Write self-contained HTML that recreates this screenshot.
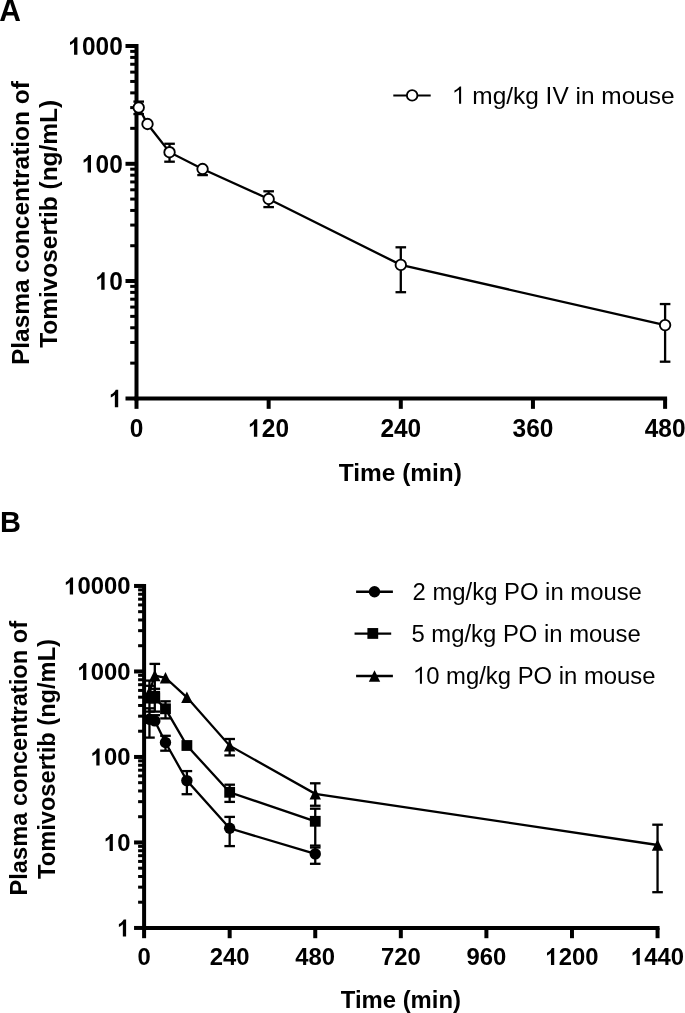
<!DOCTYPE html><html><head><meta charset="utf-8"><style>html,body{margin:0;padding:0;background:#fff;overflow:hidden;width:685px;height:1013px}svg{display:block;will-change:transform} text{font-family:"Liberation Sans",sans-serif;fill:#000} .b{font-weight:bold} .r{font-weight:normal}</style></head><body>
<svg width="685" height="1013" viewBox="0 0 685 1013">
<text class="b" style="font-size:30px" transform="translate(-0.7 21.2) scale(1 1.04)">A</text>
<text class="b" style="font-size:29px" transform="translate(0.1 531.6) scale(1 1.035)">B</text>
<g stroke="#000" fill="none" stroke-linecap="butt"><line x1="136.50" y1="44.00" x2="136.50" y2="400.50" stroke-width="4.0"/><line x1="134.50" y1="398.50" x2="667.10" y2="398.50" stroke-width="4.0"/><line x1="125.50" y1="398.50" x2="136.50" y2="398.50" stroke-width="4.0"/><line x1="125.50" y1="281.00" x2="136.50" y2="281.00" stroke-width="4.0"/><line x1="125.50" y1="163.80" x2="136.50" y2="163.80" stroke-width="4.0"/><line x1="125.50" y1="46.00" x2="136.50" y2="46.00" stroke-width="4.0"/><line x1="130.20" y1="363.13" x2="136.50" y2="363.13" stroke-width="3.0"/><line x1="130.20" y1="342.44" x2="136.50" y2="342.44" stroke-width="3.0"/><line x1="130.20" y1="327.76" x2="136.50" y2="327.76" stroke-width="3.0"/><line x1="130.20" y1="316.37" x2="136.50" y2="316.37" stroke-width="3.0"/><line x1="130.20" y1="307.07" x2="136.50" y2="307.07" stroke-width="3.0"/><line x1="130.20" y1="299.20" x2="136.50" y2="299.20" stroke-width="3.0"/><line x1="130.20" y1="292.39" x2="136.50" y2="292.39" stroke-width="3.0"/><line x1="130.20" y1="286.38" x2="136.50" y2="286.38" stroke-width="3.0"/><line x1="130.20" y1="245.72" x2="136.50" y2="245.72" stroke-width="3.0"/><line x1="130.20" y1="225.08" x2="136.50" y2="225.08" stroke-width="3.0"/><line x1="130.20" y1="210.44" x2="136.50" y2="210.44" stroke-width="3.0"/><line x1="130.20" y1="199.08" x2="136.50" y2="199.08" stroke-width="3.0"/><line x1="130.20" y1="189.80" x2="136.50" y2="189.80" stroke-width="3.0"/><line x1="130.20" y1="181.95" x2="136.50" y2="181.95" stroke-width="3.0"/><line x1="130.20" y1="175.16" x2="136.50" y2="175.16" stroke-width="3.0"/><line x1="130.20" y1="169.16" x2="136.50" y2="169.16" stroke-width="3.0"/><line x1="130.20" y1="128.34" x2="136.50" y2="128.34" stroke-width="3.0"/><line x1="130.20" y1="107.60" x2="136.50" y2="107.60" stroke-width="3.0"/><line x1="130.20" y1="92.88" x2="136.50" y2="92.88" stroke-width="3.0"/><line x1="130.20" y1="81.46" x2="136.50" y2="81.46" stroke-width="3.0"/><line x1="130.20" y1="72.13" x2="136.50" y2="72.13" stroke-width="3.0"/><line x1="130.20" y1="64.25" x2="136.50" y2="64.25" stroke-width="3.0"/><line x1="130.20" y1="57.42" x2="136.50" y2="57.42" stroke-width="3.0"/><line x1="130.20" y1="51.39" x2="136.50" y2="51.39" stroke-width="3.0"/><line x1="136.50" y1="398.50" x2="136.50" y2="408.85" stroke-width="4.0"/><line x1="268.65" y1="398.50" x2="268.65" y2="408.85" stroke-width="4.0"/><line x1="400.80" y1="398.50" x2="400.80" y2="408.85" stroke-width="4.0"/><line x1="532.95" y1="398.50" x2="532.95" y2="408.85" stroke-width="4.0"/><line x1="665.10" y1="398.50" x2="665.10" y2="408.85" stroke-width="4.0"/></g>
<g stroke="#000" fill="none" stroke-linecap="butt"><line x1="144.10" y1="583.95" x2="144.10" y2="929.95" stroke-width="4.0"/><line x1="142.10" y1="927.95" x2="659.55" y2="927.95" stroke-width="4.0"/><line x1="134.05" y1="927.95" x2="144.10" y2="927.95" stroke-width="4.0"/><line x1="134.05" y1="842.45" x2="144.10" y2="842.45" stroke-width="4.0"/><line x1="134.05" y1="756.95" x2="144.10" y2="756.95" stroke-width="4.0"/><line x1="134.05" y1="671.45" x2="144.10" y2="671.45" stroke-width="4.0"/><line x1="134.05" y1="585.95" x2="144.10" y2="585.95" stroke-width="4.0"/><line x1="138.10" y1="902.21" x2="144.10" y2="902.21" stroke-width="3.0"/><line x1="138.10" y1="887.16" x2="144.10" y2="887.16" stroke-width="3.0"/><line x1="138.10" y1="876.47" x2="144.10" y2="876.47" stroke-width="3.0"/><line x1="138.10" y1="868.19" x2="144.10" y2="868.19" stroke-width="3.0"/><line x1="138.10" y1="861.42" x2="144.10" y2="861.42" stroke-width="3.0"/><line x1="138.10" y1="855.69" x2="144.10" y2="855.69" stroke-width="3.0"/><line x1="138.10" y1="850.74" x2="144.10" y2="850.74" stroke-width="3.0"/><line x1="138.10" y1="846.36" x2="144.10" y2="846.36" stroke-width="3.0"/><line x1="138.10" y1="816.71" x2="144.10" y2="816.71" stroke-width="3.0"/><line x1="138.10" y1="801.66" x2="144.10" y2="801.66" stroke-width="3.0"/><line x1="138.10" y1="790.97" x2="144.10" y2="790.97" stroke-width="3.0"/><line x1="138.10" y1="782.69" x2="144.10" y2="782.69" stroke-width="3.0"/><line x1="138.10" y1="775.92" x2="144.10" y2="775.92" stroke-width="3.0"/><line x1="138.10" y1="770.19" x2="144.10" y2="770.19" stroke-width="3.0"/><line x1="138.10" y1="765.24" x2="144.10" y2="765.24" stroke-width="3.0"/><line x1="138.10" y1="760.86" x2="144.10" y2="760.86" stroke-width="3.0"/><line x1="138.10" y1="731.21" x2="144.10" y2="731.21" stroke-width="3.0"/><line x1="138.10" y1="716.16" x2="144.10" y2="716.16" stroke-width="3.0"/><line x1="138.10" y1="705.47" x2="144.10" y2="705.47" stroke-width="3.0"/><line x1="138.10" y1="697.19" x2="144.10" y2="697.19" stroke-width="3.0"/><line x1="138.10" y1="690.42" x2="144.10" y2="690.42" stroke-width="3.0"/><line x1="138.10" y1="684.69" x2="144.10" y2="684.69" stroke-width="3.0"/><line x1="138.10" y1="679.74" x2="144.10" y2="679.74" stroke-width="3.0"/><line x1="138.10" y1="675.36" x2="144.10" y2="675.36" stroke-width="3.0"/><line x1="138.10" y1="645.71" x2="144.10" y2="645.71" stroke-width="3.0"/><line x1="138.10" y1="630.66" x2="144.10" y2="630.66" stroke-width="3.0"/><line x1="138.10" y1="619.97" x2="144.10" y2="619.97" stroke-width="3.0"/><line x1="138.10" y1="611.69" x2="144.10" y2="611.69" stroke-width="3.0"/><line x1="138.10" y1="604.92" x2="144.10" y2="604.92" stroke-width="3.0"/><line x1="138.10" y1="599.19" x2="144.10" y2="599.19" stroke-width="3.0"/><line x1="138.10" y1="594.24" x2="144.10" y2="594.24" stroke-width="3.0"/><line x1="138.10" y1="589.86" x2="144.10" y2="589.86" stroke-width="3.0"/><line x1="144.10" y1="927.95" x2="144.10" y2="938.20" stroke-width="4.0"/><line x1="229.67" y1="927.95" x2="229.67" y2="938.20" stroke-width="4.0"/><line x1="315.25" y1="927.95" x2="315.25" y2="938.20" stroke-width="4.0"/><line x1="400.82" y1="927.95" x2="400.82" y2="938.20" stroke-width="4.0"/><line x1="486.40" y1="927.95" x2="486.40" y2="938.20" stroke-width="4.0"/><line x1="571.97" y1="927.95" x2="571.97" y2="938.20" stroke-width="4.0"/><line x1="657.55" y1="927.95" x2="657.55" y2="938.20" stroke-width="4.0"/></g>
<polygon points="77.40,54.75 74.05,54.75 74.05,42.14 72.93,43.26 71.53,44.24 69.99,45.05 69.99,42.01 71.58,41.18 73.05,39.96 74.27,38.42 74.96,37.25 77.40,37.25"/><text x="82.00" y="0" transform="translate(0 54.75) scale(1 1.028)" class="b" style="font-size:24.45px">0</text><text x="95.60" y="0" transform="translate(0 54.75) scale(1 1.028)" class="b" style="font-size:24.45px">0</text><text x="109.20" y="0" transform="translate(0 54.75) scale(1 1.028)" class="b" style="font-size:24.45px">0</text>
<polygon points="91.00,172.55 87.65,172.55 87.65,159.94 86.53,161.06 85.13,162.04 83.59,162.85 83.59,159.81 85.18,158.98 86.65,157.76 87.87,156.22 88.56,155.05 91.00,155.05"/><text x="95.60" y="0" transform="translate(0 172.55) scale(1 1.028)" class="b" style="font-size:24.45px">0</text><text x="109.20" y="0" transform="translate(0 172.55) scale(1 1.028)" class="b" style="font-size:24.45px">0</text>
<polygon points="104.60,289.75 101.25,289.75 101.25,277.14 100.13,278.26 98.73,279.24 97.19,280.05 97.19,277.01 98.78,276.18 100.25,274.96 101.47,273.42 102.15,272.25 104.60,272.25"/><text x="109.20" y="0" transform="translate(0 289.75) scale(1 1.028)" class="b" style="font-size:24.45px">0</text>
<polygon points="118.20,407.25 114.85,407.25 114.85,394.64 113.72,395.76 112.33,396.74 110.79,397.55 110.79,394.51 112.38,393.68 113.85,392.46 115.07,390.92 115.75,389.75 118.20,389.75"/>
<text x="129.70" y="0" transform="translate(0 436.70) scale(1 1.028)" class="b" style="font-size:24.45px">0</text>
<polygon points="257.25,436.70 253.90,436.70 253.90,424.08 252.77,425.21 251.38,426.19 249.84,426.99 249.84,423.96 251.43,423.13 252.90,421.91 254.12,420.37 254.80,419.19 257.25,419.19"/><text x="261.85" y="0" transform="translate(0 436.70) scale(1 1.028)" class="b" style="font-size:24.45px">2</text><text x="275.45" y="0" transform="translate(0 436.70) scale(1 1.028)" class="b" style="font-size:24.45px">0</text>
<text x="380.40" y="0" transform="translate(0 436.70) scale(1 1.028)" class="b" style="font-size:24.45px">2</text><text x="394.00" y="0" transform="translate(0 436.70) scale(1 1.028)" class="b" style="font-size:24.45px">4</text><text x="407.60" y="0" transform="translate(0 436.70) scale(1 1.028)" class="b" style="font-size:24.45px">0</text>
<text x="512.55" y="0" transform="translate(0 436.70) scale(1 1.028)" class="b" style="font-size:24.45px">3</text><text x="526.15" y="0" transform="translate(0 436.70) scale(1 1.028)" class="b" style="font-size:24.45px">6</text><text x="539.75" y="0" transform="translate(0 436.70) scale(1 1.028)" class="b" style="font-size:24.45px">0</text>
<text x="644.70" y="0" transform="translate(0 436.70) scale(1 1.028)" class="b" style="font-size:24.45px">4</text><text x="658.30" y="0" transform="translate(0 436.70) scale(1 1.028)" class="b" style="font-size:24.45px">8</text><text x="671.90" y="0" transform="translate(0 436.70) scale(1 1.028)" class="b" style="font-size:24.45px">0</text>
<polygon points="73.05,594.49 69.78,594.49 69.78,582.18 68.69,583.28 67.33,584.23 65.82,585.02 65.82,582.06 67.37,581.25 68.80,580.06 70.00,578.56 70.66,577.41 73.05,577.41"/><text x="77.54" y="0" transform="translate(0 594.49) scale(1 1.028)" class="b" style="font-size:23.85px">0</text><text x="90.80" y="0" transform="translate(0 594.49) scale(1 1.028)" class="b" style="font-size:23.85px">0</text><text x="104.07" y="0" transform="translate(0 594.49) scale(1 1.028)" class="b" style="font-size:23.85px">0</text><text x="117.33" y="0" transform="translate(0 594.49) scale(1 1.028)" class="b" style="font-size:23.85px">0</text>
<polygon points="86.32,679.99 83.05,679.99 83.05,667.68 81.95,668.78 80.59,669.73 79.09,670.52 79.09,667.56 80.64,666.75 82.07,665.56 83.26,664.06 83.93,662.91 86.32,662.91"/><text x="90.80" y="0" transform="translate(0 679.99) scale(1 1.028)" class="b" style="font-size:23.85px">0</text><text x="104.07" y="0" transform="translate(0 679.99) scale(1 1.028)" class="b" style="font-size:23.85px">0</text><text x="117.33" y="0" transform="translate(0 679.99) scale(1 1.028)" class="b" style="font-size:23.85px">0</text>
<polygon points="99.58,765.49 96.31,765.49 96.31,753.18 95.22,754.28 93.86,755.23 92.35,756.02 92.35,753.06 93.90,752.25 95.34,751.06 96.53,749.56 97.20,748.41 99.58,748.41"/><text x="104.07" y="0" transform="translate(0 765.49) scale(1 1.028)" class="b" style="font-size:23.85px">0</text><text x="117.33" y="0" transform="translate(0 765.49) scale(1 1.028)" class="b" style="font-size:23.85px">0</text>
<polygon points="112.85,850.99 109.58,850.99 109.58,838.68 108.48,839.78 107.12,840.73 105.62,841.52 105.62,838.56 107.17,837.75 108.60,836.56 109.79,835.06 110.46,833.91 112.85,833.91"/><text x="117.33" y="0" transform="translate(0 850.99) scale(1 1.028)" class="b" style="font-size:23.85px">0</text>
<polygon points="126.11,936.49 122.84,936.49 122.84,924.18 121.75,925.28 120.39,926.23 118.88,927.02 118.88,924.06 120.44,923.25 121.87,922.06 123.06,920.56 123.73,919.41 126.11,919.41"/>
<text x="137.47" y="0" transform="translate(0 965.10) scale(1 1.028)" class="b" style="font-size:23.85px">0</text>
<text x="209.78" y="0" transform="translate(0 965.10) scale(1 1.028)" class="b" style="font-size:23.85px">2</text><text x="223.04" y="0" transform="translate(0 965.10) scale(1 1.028)" class="b" style="font-size:23.85px">4</text><text x="236.31" y="0" transform="translate(0 965.10) scale(1 1.028)" class="b" style="font-size:23.85px">0</text>
<text x="295.35" y="0" transform="translate(0 965.10) scale(1 1.028)" class="b" style="font-size:23.85px">4</text><text x="308.62" y="0" transform="translate(0 965.10) scale(1 1.028)" class="b" style="font-size:23.85px">8</text><text x="321.88" y="0" transform="translate(0 965.10) scale(1 1.028)" class="b" style="font-size:23.85px">0</text>
<text x="380.93" y="0" transform="translate(0 965.10) scale(1 1.028)" class="b" style="font-size:23.85px">7</text><text x="394.19" y="0" transform="translate(0 965.10) scale(1 1.028)" class="b" style="font-size:23.85px">2</text><text x="407.46" y="0" transform="translate(0 965.10) scale(1 1.028)" class="b" style="font-size:23.85px">0</text>
<text x="466.50" y="0" transform="translate(0 965.10) scale(1 1.028)" class="b" style="font-size:23.85px">9</text><text x="479.77" y="0" transform="translate(0 965.10) scale(1 1.028)" class="b" style="font-size:23.85px">6</text><text x="493.03" y="0" transform="translate(0 965.10) scale(1 1.028)" class="b" style="font-size:23.85px">0</text>
<polygon points="554.22,965.10 550.95,965.10 550.95,952.79 549.86,953.89 548.50,954.84 546.99,955.63 546.99,952.67 548.54,951.86 549.98,950.67 551.17,949.17 551.84,948.02 554.22,948.02"/><text x="558.71" y="0" transform="translate(0 965.10) scale(1 1.028)" class="b" style="font-size:23.85px">2</text><text x="571.97" y="0" transform="translate(0 965.10) scale(1 1.028)" class="b" style="font-size:23.85px">0</text><text x="585.24" y="0" transform="translate(0 965.10) scale(1 1.028)" class="b" style="font-size:23.85px">0</text>
<polygon points="639.80,965.10 636.53,965.10 636.53,952.79 635.43,953.89 634.07,954.84 632.57,955.63 632.57,952.67 634.12,951.86 635.55,950.67 636.74,949.17 637.41,948.02 639.80,948.02"/><text x="644.28" y="0" transform="translate(0 965.10) scale(1 1.028)" class="b" style="font-size:23.85px">4</text><text x="657.55" y="0" transform="translate(0 965.10) scale(1 1.028)" class="b" style="font-size:23.85px">4</text><text x="670.82" y="0" transform="translate(0 965.10) scale(1 1.028)" class="b" style="font-size:23.85px">0</text>
<text class="b" style="font-size:24.45px" transform="translate(28.9 365.03815) rotate(-90) ">Plasma concentration of</text><text class="b" style="font-size:24.45px" transform="translate(56.9 347.86895000000004) rotate(-90) ">Tomivosertib (ng/mL)</text>
<text class="b" style="font-size:23.65px" transform="translate(27.1 895.48455) rotate(-90) ">Plasma concentration of</text><text class="b" style="font-size:23.65px" transform="translate(54.7 878.96015) rotate(-90) ">Tomivosertib (ng/mL)</text>
<text class="b" style="font-size:24.45px" transform="translate(338.83 481.0) ">Time (min)</text>
<text class="b" style="font-size:23.85px" transform="translate(340.84 1007.8) ">Time (min)</text>
<g stroke="#000" stroke-width="2.3" fill="none"><line x1="138.70" y1="101.60" x2="138.70" y2="107.50" stroke-width="2.3"/><line x1="133.40" y1="101.60" x2="144.00" y2="101.60" stroke-width="2.3"/><line x1="138.70" y1="107.50" x2="138.70" y2="114.05" stroke-width="2.3"/><line x1="133.40" y1="114.05" x2="144.00" y2="114.05" stroke-width="2.3"/><line x1="169.54" y1="143.76" x2="169.54" y2="152.20" stroke-width="2.3"/><line x1="164.24" y1="143.76" x2="174.84" y2="143.76" stroke-width="2.3"/><line x1="169.54" y1="152.20" x2="169.54" y2="161.70" stroke-width="2.3"/><line x1="164.24" y1="161.70" x2="174.84" y2="161.70" stroke-width="2.3"/><line x1="202.57" y1="169.00" x2="202.57" y2="175.10" stroke-width="2.3"/><line x1="197.27" y1="175.10" x2="207.88" y2="175.10" stroke-width="2.3"/><line x1="268.65" y1="191.30" x2="268.65" y2="199.00" stroke-width="2.3"/><line x1="263.35" y1="191.30" x2="273.95" y2="191.30" stroke-width="2.3"/><line x1="268.65" y1="199.00" x2="268.65" y2="207.10" stroke-width="2.3"/><line x1="263.35" y1="207.10" x2="273.95" y2="207.10" stroke-width="2.3"/><line x1="400.80" y1="247.30" x2="400.80" y2="264.90" stroke-width="2.3"/><line x1="395.50" y1="247.30" x2="406.10" y2="247.30" stroke-width="2.3"/><line x1="400.80" y1="264.90" x2="400.80" y2="292.20" stroke-width="2.3"/><line x1="395.50" y1="292.20" x2="406.10" y2="292.20" stroke-width="2.3"/><line x1="665.10" y1="304.05" x2="665.10" y2="325.10" stroke-width="2.3"/><line x1="659.80" y1="304.05" x2="670.40" y2="304.05" stroke-width="2.3"/><line x1="665.10" y1="325.10" x2="665.10" y2="361.70" stroke-width="2.3"/><line x1="659.80" y1="361.70" x2="670.40" y2="361.70" stroke-width="2.3"/><polyline points="138.70,107.50 147.51,124.00 169.54,152.20 202.57,169.00 268.65,199.00 400.80,264.90 665.10,325.10"/></g>
<circle cx="138.70" cy="107.50" r="5.25" fill="#fff" stroke="#000" stroke-width="1.85"/>
<circle cx="147.51" cy="124.00" r="5.25" fill="#fff" stroke="#000" stroke-width="1.85"/>
<circle cx="169.54" cy="152.20" r="5.25" fill="#fff" stroke="#000" stroke-width="1.85"/>
<circle cx="202.57" cy="169.00" r="5.25" fill="#fff" stroke="#000" stroke-width="1.85"/>
<circle cx="268.65" cy="199.00" r="5.25" fill="#fff" stroke="#000" stroke-width="1.85"/>
<circle cx="400.80" cy="264.90" r="5.25" fill="#fff" stroke="#000" stroke-width="1.85"/>
<circle cx="665.10" cy="325.10" r="5.25" fill="#fff" stroke="#000" stroke-width="1.85"/>
<g stroke="#000"><line x1="393.30" y1="95.50" x2="430.70" y2="95.50" stroke-width="2.1"/></g>
<circle cx="412.15" cy="95.4" r="5.25" fill="#fff" stroke="#000" stroke-width="1.85"/>
<polygon points="461.12,103.80 459.04,103.80 459.04,89.67 457.45,90.84 455.93,91.80 454.47,92.68 454.47,90.52 456.37,89.47 457.94,88.30 459.23,87.10 459.80,86.54 461.12,86.54"/>
<text class="r" style="font-size:24.45px" x="472.29" y="103.8">mg/kg IV in mouse</text>
<g stroke="#000" stroke-width="2.3" fill="none"><line x1="149.45" y1="708.30" x2="149.45" y2="719.20" stroke-width="2.3"/><line x1="144.15" y1="708.30" x2="154.75" y2="708.30" stroke-width="2.3"/><line x1="149.45" y1="719.20" x2="149.45" y2="737.60" stroke-width="2.3"/><line x1="144.15" y1="737.60" x2="154.75" y2="737.60" stroke-width="2.3"/><line x1="154.80" y1="715.20" x2="154.80" y2="720.90" stroke-width="2.3"/><line x1="149.50" y1="715.20" x2="160.10" y2="715.20" stroke-width="2.3"/><line x1="165.49" y1="735.80" x2="165.49" y2="742.45" stroke-width="2.3"/><line x1="160.19" y1="735.80" x2="170.79" y2="735.80" stroke-width="2.3"/><line x1="165.49" y1="742.45" x2="165.49" y2="750.70" stroke-width="2.3"/><line x1="160.19" y1="750.70" x2="170.79" y2="750.70" stroke-width="2.3"/><line x1="186.89" y1="771.10" x2="186.89" y2="780.60" stroke-width="2.3"/><line x1="181.59" y1="771.10" x2="192.19" y2="771.10" stroke-width="2.3"/><line x1="186.89" y1="780.60" x2="186.89" y2="794.20" stroke-width="2.3"/><line x1="181.59" y1="794.20" x2="192.19" y2="794.20" stroke-width="2.3"/><line x1="229.67" y1="816.90" x2="229.67" y2="828.30" stroke-width="2.3"/><line x1="224.37" y1="816.90" x2="234.97" y2="816.90" stroke-width="2.3"/><line x1="229.67" y1="828.30" x2="229.67" y2="846.10" stroke-width="2.3"/><line x1="224.37" y1="846.10" x2="234.97" y2="846.10" stroke-width="2.3"/><line x1="315.25" y1="847.50" x2="315.25" y2="853.90" stroke-width="2.3"/><line x1="309.95" y1="847.50" x2="320.55" y2="847.50" stroke-width="2.3"/><line x1="315.25" y1="853.90" x2="315.25" y2="863.80" stroke-width="2.3"/><line x1="309.95" y1="863.80" x2="320.55" y2="863.80" stroke-width="2.3"/><polyline points="149.45,719.20 154.80,720.90 165.49,742.45 186.89,780.60 229.67,828.30 315.25,853.90"/></g><g fill="#000"><circle cx="149.45" cy="719.20" r="5.7"/><circle cx="154.80" cy="720.90" r="5.7"/><circle cx="165.49" cy="742.45" r="5.7"/><circle cx="186.89" cy="780.60" r="5.7"/><circle cx="229.67" cy="828.30" r="5.7"/><circle cx="315.25" cy="853.90" r="5.7"/></g>
<g stroke="#000" stroke-width="2.3" fill="none"><line x1="149.45" y1="685.80" x2="149.45" y2="698.10" stroke-width="2.3"/><line x1="144.15" y1="685.80" x2="154.75" y2="685.80" stroke-width="2.3"/><line x1="149.45" y1="698.10" x2="149.45" y2="711.60" stroke-width="2.3"/><line x1="144.15" y1="711.60" x2="154.75" y2="711.60" stroke-width="2.3"/><line x1="154.80" y1="688.80" x2="154.80" y2="698.10" stroke-width="2.3"/><line x1="149.50" y1="688.80" x2="160.10" y2="688.80" stroke-width="2.3"/><line x1="154.80" y1="698.10" x2="154.80" y2="711.60" stroke-width="2.3"/><line x1="149.50" y1="711.60" x2="160.10" y2="711.60" stroke-width="2.3"/><line x1="165.49" y1="701.30" x2="165.49" y2="708.80" stroke-width="2.3"/><line x1="160.19" y1="701.30" x2="170.79" y2="701.30" stroke-width="2.3"/><line x1="165.49" y1="708.80" x2="165.49" y2="718.40" stroke-width="2.3"/><line x1="160.19" y1="718.40" x2="170.79" y2="718.40" stroke-width="2.3"/><line x1="229.67" y1="784.70" x2="229.67" y2="792.30" stroke-width="2.3"/><line x1="224.37" y1="784.70" x2="234.97" y2="784.70" stroke-width="2.3"/><line x1="229.67" y1="792.30" x2="229.67" y2="801.90" stroke-width="2.3"/><line x1="224.37" y1="801.90" x2="234.97" y2="801.90" stroke-width="2.3"/><line x1="315.25" y1="808.70" x2="315.25" y2="821.30" stroke-width="2.3"/><line x1="309.95" y1="808.70" x2="320.55" y2="808.70" stroke-width="2.3"/><line x1="315.25" y1="821.30" x2="315.25" y2="845.60" stroke-width="2.3"/><line x1="309.95" y1="845.60" x2="320.55" y2="845.60" stroke-width="2.3"/><polyline points="149.45,698.10 154.80,698.10 165.49,708.80 186.89,745.50 229.67,792.30 315.25,821.30"/></g><g fill="#000"><rect x="144.05" y="692.70" width="10.8" height="10.8"/><rect x="149.40" y="692.70" width="10.8" height="10.8"/><rect x="160.09" y="703.40" width="10.8" height="10.8"/><rect x="181.49" y="740.10" width="10.8" height="10.8"/><rect x="224.27" y="786.90" width="10.8" height="10.8"/><rect x="309.85" y="815.90" width="10.8" height="10.8"/></g>
<g stroke="#000" stroke-width="2.3" fill="none"><line x1="149.45" y1="680.60" x2="149.45" y2="692.00" stroke-width="2.3"/><line x1="144.15" y1="680.60" x2="154.75" y2="680.60" stroke-width="2.3"/><line x1="149.45" y1="692.00" x2="149.45" y2="697.20" stroke-width="2.3"/><line x1="144.15" y1="697.20" x2="154.75" y2="697.20" stroke-width="2.3"/><line x1="154.80" y1="663.90" x2="154.80" y2="675.50" stroke-width="2.3"/><line x1="149.50" y1="663.90" x2="160.10" y2="663.90" stroke-width="2.3"/><line x1="154.80" y1="675.50" x2="154.80" y2="692.00" stroke-width="2.3"/><line x1="149.50" y1="692.00" x2="160.10" y2="692.00" stroke-width="2.3"/><line x1="229.67" y1="739.00" x2="229.67" y2="745.70" stroke-width="2.3"/><line x1="224.37" y1="739.00" x2="234.97" y2="739.00" stroke-width="2.3"/><line x1="229.67" y1="745.70" x2="229.67" y2="755.40" stroke-width="2.3"/><line x1="224.37" y1="755.40" x2="234.97" y2="755.40" stroke-width="2.3"/><line x1="315.25" y1="783.30" x2="315.25" y2="793.80" stroke-width="2.3"/><line x1="309.95" y1="783.30" x2="320.55" y2="783.30" stroke-width="2.3"/><line x1="315.25" y1="793.80" x2="315.25" y2="805.75" stroke-width="2.3"/><line x1="309.95" y1="805.75" x2="320.55" y2="805.75" stroke-width="2.3"/><line x1="657.55" y1="824.70" x2="657.55" y2="845.00" stroke-width="2.3"/><line x1="652.25" y1="824.70" x2="662.85" y2="824.70" stroke-width="2.3"/><line x1="657.55" y1="845.00" x2="657.55" y2="892.20" stroke-width="2.3"/><line x1="652.25" y1="892.20" x2="662.85" y2="892.20" stroke-width="2.3"/><polyline points="149.45,692.00 154.80,675.50 165.49,677.75 186.89,697.30 229.67,745.70 315.25,793.80 657.55,845.00"/></g><g fill="#000"><polygon points="149.45,686.30 143.75,697.70 155.15,697.70"/><polygon points="154.80,669.80 149.10,681.20 160.50,681.20"/><polygon points="165.49,672.05 159.79,683.45 171.19,683.45"/><polygon points="186.89,691.60 181.19,703.00 192.59,703.00"/><polygon points="229.67,740.00 223.97,751.40 235.37,751.40"/><polygon points="315.25,788.10 309.55,799.50 320.95,799.50"/><polygon points="657.55,839.30 651.85,850.70 663.25,850.70"/></g>
<g stroke="#000"><line x1="356.10" y1="591.75" x2="392.90" y2="591.75" stroke-width="2.3"/><line x1="354.55" y1="633.60" x2="391.20" y2="633.60" stroke-width="2.3"/><line x1="356.10" y1="676.00" x2="392.90" y2="676.00" stroke-width="2.3"/></g>
<g fill="#000"><circle cx="374.50" cy="591.75" r="5.7"/><rect x="367.40" y="628.05" width="10.8" height="10.8"/><polygon points="374.50,670.30 368.80,681.70 380.20,681.70"/></g>
<text class="r" style="font-size:23.85px" transform="translate(412.61 599.7) ">2 mg/kg PO in mouse</text>
<text class="r" style="font-size:23.85px" transform="translate(411.45 641.6) ">5 mg/kg PO in mouse</text>
<polygon points="421.94,683.70 419.91,683.70 419.91,669.91 418.36,671.06 416.89,671.99 415.45,672.85 415.45,670.75 417.31,669.72 418.84,668.58 420.10,667.41 420.65,666.86 421.94,666.86"/>
<text class="r" style="font-size:23.85px" x="426.22" y="683.7">0 mg/kg PO in mouse</text>
</svg></body></html>
